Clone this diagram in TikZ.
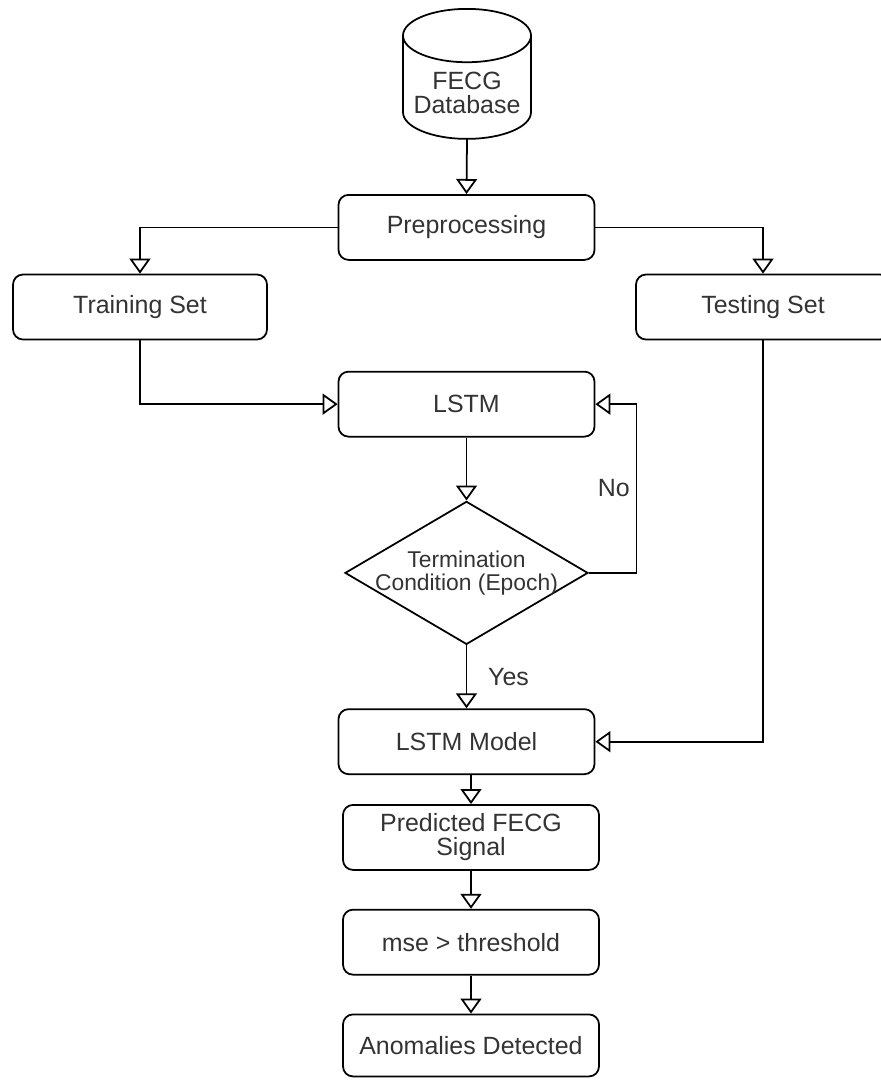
\documentclass[tikz,border=0pt]{standalone}
\usepackage{fontspec}
\setmainfont{Liberation Sans}
\usetikzlibrary{shapes.geometric, arrows.meta, positioning, calc}
\tikzset{
    block/.style={rectangle, draw, rounded corners=0.2cm, line width=1pt, text=black!80, align=center, minimum width=5.12cm, minimum height=1.3cm, font=\fontsize{14.2}{13.6}\selectfont},
    block_db/.style={cylinder, shape border rotate=90, draw, line width=1pt, aspect=0.45, minimum width=2.56cm, minimum height=2.6cm, text=black!80, align=center, font=\fontsize{14.2}{13.6}\selectfont},
    block_cond/.style={diamond, draw, line width=1pt, minimum width=4.86cm, minimum height=2.86cm, inner sep=0pt},
    arrow/.style={-{Triangle[open,length=0.3cm,width=0.42cm]}, line width=1pt},
    lbl/.style={text=black!80, font=\fontsize{14.2}{13.6}\selectfont}
}
\begin{document}
\begin{tikzpicture}

\useasboundingbox (0,0) rectangle (17.6,-21.62);

\node (db) [block_db, anchor=north] at (9.34,-0.16) {FECG\\Database};

\node (pre) [block, anchor=north] at (9.33,-3.88) {Preprocessing};

\node (train) [block, minimum width=5.08cm] at (2.8,-6.14) {Training Set};

\node (test) [block, minimum width=5.08cm] at (15.26,-6.14) {Testing Set};

\node (lstm) [block, below=2.2cm of pre] {LSTM};

\node (cond) [block_cond, below=1.26cm of lstm,
    label={[lbl, align=center, font=\fontsize{13}{13.2}\selectfont]center:Termination\\Condition (Epoch)}] {};

\node (model) [block, below=1.26cm of cond] {LSTM Model};

\node (pred) [block, below=0.58cm of model, xshift=0.09cm] {Predicted FECG\\Signal};

\node (mse) [block, below=0.76cm of pred] {mse > threshold};

\node (anom) [block, below=0.76cm of mse, minimum height=1.24cm] {Anomalies Detected};

% Split of data
\draw[arrow] (db.south) -- (pre.north);
\draw[arrow] (pre.west) -| (train.north);
\draw[arrow] (pre.east) -| (test.north);

% Training loop
\draw[arrow] (train.south) |- (lstm.west);
\draw[arrow] (lstm.south) -- (cond.north);
\draw[arrow] (cond.east) -| node[lbl, pos=0.75, left]{No} ($(lstm.east)+(0.82,0)$) -- (lstm.east);
\draw[arrow] (cond.south) -- node[lbl, right, xshift=0.3cm]{Yes} (model.north);

% Testing branch
\draw[arrow] (test.south) |- (model.east);

% Detection
\draw[arrow] (pred.north |- model.south) -- (pred.north);
\draw[arrow] (pred.south) -- (mse.north);
\draw[arrow] (mse.south) -- (anom.north);

\end{tikzpicture}
\end{document}
